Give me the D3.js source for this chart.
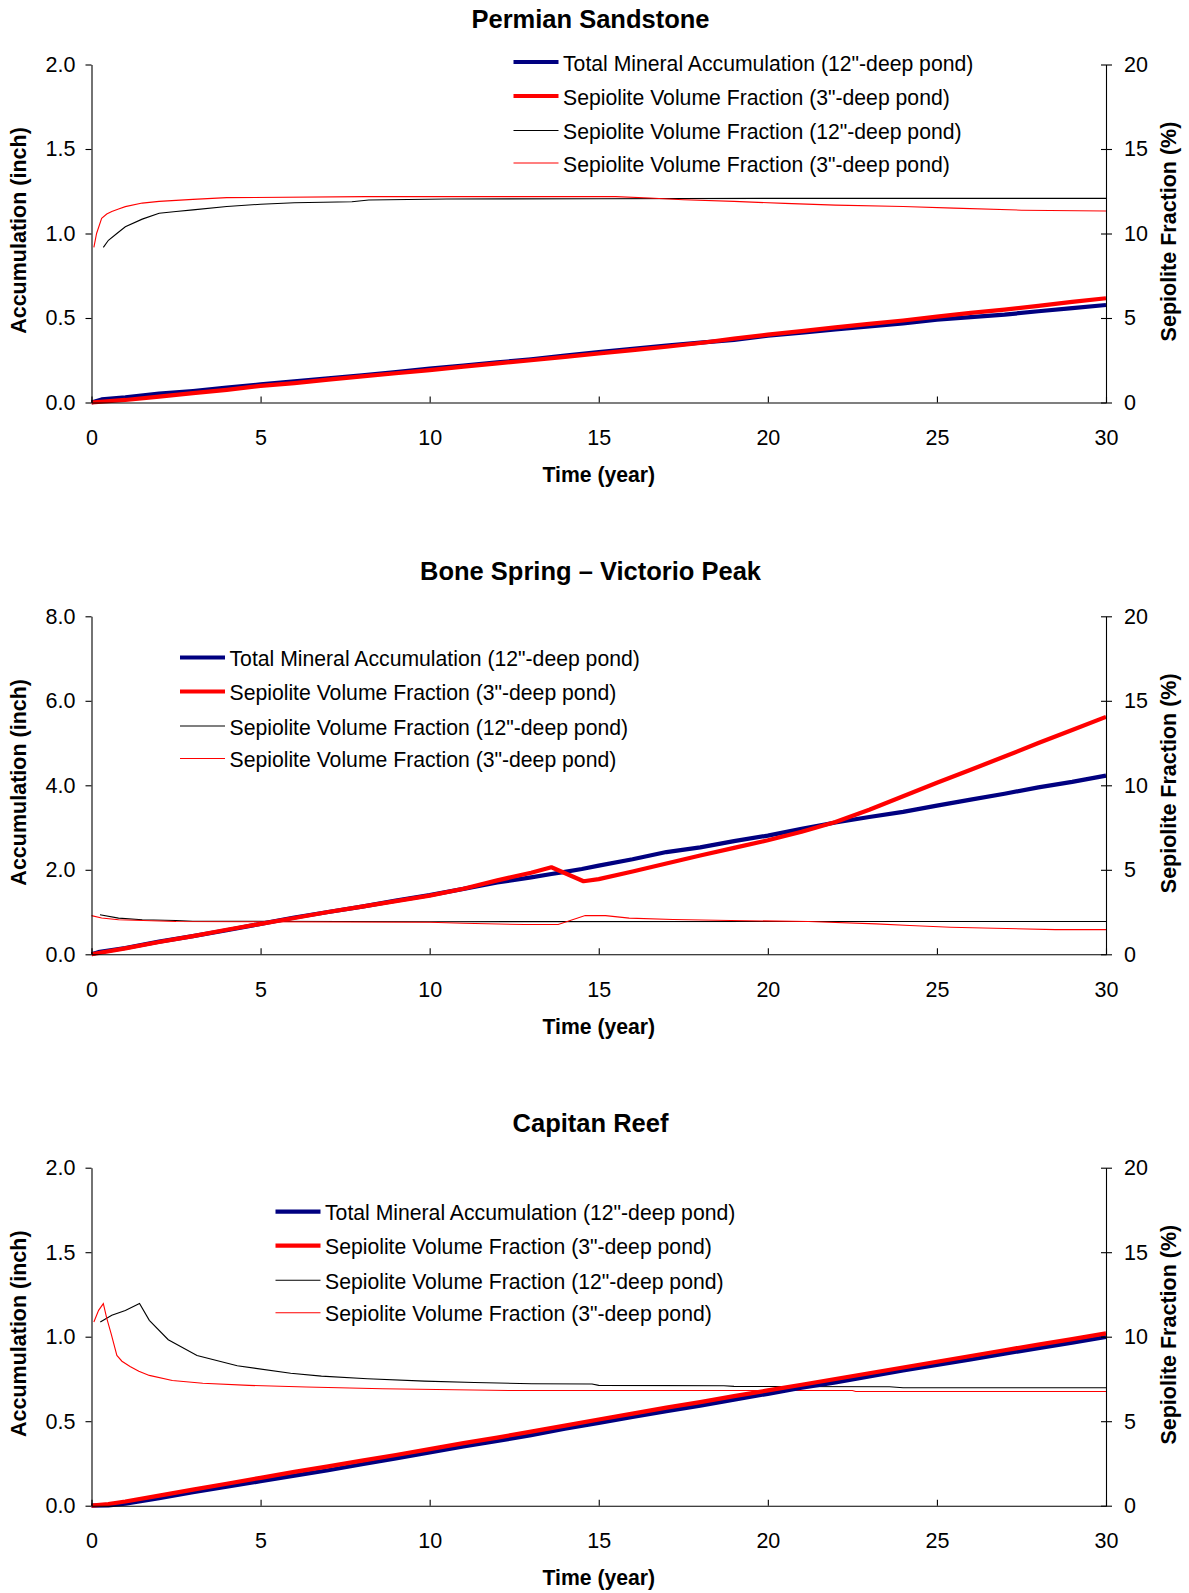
<!DOCTYPE html>
<html>
<head>
<meta charset="utf-8">
<script src="https://cdn.jsdelivr.net/npm/d3@7"></script>
<style>
  body { margin: 0; background: #fff; }
  svg { display: block; }
  text { font-family: "Liberation Sans", Arial, sans-serif; fill: #000; }
</style>
</head>
<body>
<svg id="chart" width="1189" height="1593"></svg>
<script>
// ---------------- DATA ----------------
const chartTitles = ["Permian Sandstone", "Bone Spring \u2013 Victorio Peak", "Capitan Reef"];
const legendLabels = [
  "Total Mineral Accumulation (12\"-deep pond)",
  "Sepiolite Volume Fraction (3\"-deep pond)",
  "Sepiolite Volume Fraction (12\"-deep pond)",
  "Sepiolite Volume Fraction (3\"-deep pond)"
];
const xTicks = [0, 5, 10, 15, 20, 25, 30];
const leftMax = [2.0, 8.0, 2.0];
const leftTicks = [[0, 0.5, 1.0, 1.5, 2.0], [0, 2, 4, 6, 8], [0, 0.5, 1.0, 1.5, 2.0]];
const rightTicks = [0, 5, 10, 15, 20];

// Chart 1: Permian Sandstone
const c1AccBlueT = [0, 0.3, 1, 2, 3, 4, 5, 6, 7, 8, 9, 10, 11, 12, 13, 14, 15, 16, 17, 18, 19, 20, 21, 22, 23, 24, 25, 26, 27, 28, 29, 30];
const c1AccBlueV = [0, 0.018, 0.03, 0.052, 0.068, 0.088, 0.107, 0.125, 0.143, 0.16, 0.18, 0.201, 0.218, 0.237, 0.256, 0.278, 0.298, 0.318, 0.336, 0.354, 0.37, 0.396, 0.414, 0.432, 0.45, 0.468, 0.49, 0.505, 0.52, 0.54, 0.558, 0.577];
const c1AccRedT = [0, 1, 2, 3, 4, 5, 6, 7, 8, 9, 10, 11, 12, 13, 14, 15, 16, 17, 18, 19, 20, 21, 22, 23, 24, 25, 26, 27, 28, 29, 30];
const c1AccRedV = [0, 0.015, 0.035, 0.055, 0.075, 0.098, 0.115, 0.135, 0.155, 0.173, 0.192, 0.212, 0.232, 0.25, 0.27, 0.29, 0.31, 0.33, 0.352, 0.378, 0.402, 0.422, 0.445, 0.465, 0.485, 0.508, 0.53, 0.55, 0.572, 0.595, 0.617];
const c1FracBlackT = [0.35, 0.5, 0.75, 1, 1.5, 2, 2.5, 3, 4, 5, 6, 7.7, 8.2, 10.5, 15, 20, 30];
const c1FracBlackV = [9.18, 9.6, 10.0, 10.4, 10.85, 11.2, 11.3, 11.4, 11.6, 11.73, 11.82, 11.88, 11.98, 12.04, 12.06, 12.08, 12.08];
const c1FracRedT = [0.07, 0.15, 0.3, 0.45, 0.6, 0.8, 1, 1.5, 2, 2.5, 3, 4, 8.1, 15.5, 16.5, 17.5, 19, 20.5, 22, 24, 25.5, 27.5, 30];
const c1FracRedV = [9.18, 10.0, 10.9, 11.15, 11.3, 11.45, 11.59, 11.8, 11.9, 11.96, 12.02, 12.12, 12.18, 12.18, 12.1, 12.0, 11.9, 11.78, 11.68, 11.6, 11.5, 11.38, 11.33];

// Chart 2: Bone Spring – Victorio Peak
const c2AccBlueT = [0, 0.2, 1, 2, 3, 4, 5, 6, 7, 8, 9, 10, 11, 12, 13, 13.6, 14, 14.5, 15, 16, 17, 18, 19, 20, 21, 22, 23, 24, 25, 26, 27, 28, 29, 30];
const c2AccBlueV = [0, 0.05, 0.15, 0.3, 0.43, 0.57, 0.72, 0.87, 1.0, 1.13, 1.27, 1.4, 1.55, 1.7, 1.82, 1.9, 1.95, 2.02, 2.1, 2.25, 2.42, 2.53, 2.68, 2.81, 2.97, 3.12, 3.25, 3.37, 3.52, 3.66, 3.8, 3.95, 4.08, 4.23];
const c2AccRedT = [0, 1, 2, 3, 4, 5, 6, 7, 8, 9, 10, 11, 12, 13, 13.6, 14.55, 15, 16, 17, 18, 19, 20, 21, 22, 23, 24, 25, 26, 27, 28, 29, 30];
const c2AccRedV = [0, 0.14, 0.29, 0.43, 0.58, 0.72, 0.86, 1.0, 1.13, 1.26, 1.39, 1.55, 1.75, 1.93, 2.06, 1.73, 1.78, 1.96, 2.15, 2.34, 2.52, 2.7, 2.9, 3.13, 3.42, 3.74, 4.06, 4.37, 4.68, 5.0, 5.31, 5.62];
const c2FracBlackT = [0.25, 0.8, 1.5, 2.5, 3, 10, 20, 30];
const c2FracBlackV = [2.34, 2.14, 2.04, 2.0, 1.96, 1.93, 1.94, 1.94];
const c2FracRedT = [0, 0.3, 0.8, 2.5, 10, 11, 12.8, 13.8, 14.6, 15.2, 15.9, 17.2, 18.9, 21.2, 23.2, 24.2, 25.4, 26.7, 28.5, 30];
const c2FracRedV = [2.29, 2.15, 2.04, 1.94, 1.9, 1.84, 1.76, 1.76, 2.29, 2.29, 2.14, 2.06, 2.0, 1.94, 1.8, 1.7, 1.6, 1.54, 1.46, 1.46];

// Chart 3: Capitan Reef
const c3AccT = [0, 0.5, 1, 2, 3, 4, 5, 6, 7, 8, 9, 10, 11, 12, 13, 14, 15, 16, 17, 18, 19, 20, 21, 22, 23, 24, 25, 26, 27, 28, 29, 30];
const c3AccBlueV = [0, 0.002, 0.012, 0.045, 0.08, 0.112, 0.145, 0.178, 0.21, 0.245, 0.28, 0.315, 0.35, 0.383, 0.418, 0.455, 0.49, 0.525, 0.56, 0.592, 0.628, 0.662, 0.698, 0.73, 0.765, 0.8, 0.833, 0.865, 0.9, 0.932, 0.965, 0.998];
const c3AccRedV = [0, 0.01, 0.025, 0.06, 0.095, 0.13, 0.165, 0.2, 0.233, 0.267, 0.3, 0.335, 0.37, 0.403, 0.438, 0.474, 0.51, 0.545, 0.58, 0.613, 0.648, 0.682, 0.716, 0.75, 0.784, 0.818, 0.852, 0.886, 0.92, 0.953, 0.986, 1.02];
const c3FracBlackT = [0.26, 0.6, 1.0, 1.42, 1.71, 2.27, 3.12, 4.31, 5.89, 6.8, 8.16, 9.85, 11.32, 13.02, 14.8, 15, 18.7, 19, 23.6, 24, 30];
const c3FracBlackV = [10.87, 11.27, 11.55, 11.96, 10.97, 9.82, 8.89, 8.28, 7.84, 7.67, 7.51, 7.37, 7.29, 7.22, 7.2, 7.12, 7.1, 7.06, 7.04, 6.98, 6.98];
const c3FracRedT = [0.07, 0.21, 0.35, 0.45, 0.58, 0.75, 0.9, 1.14, 1.4, 1.71, 2.39, 3.29, 4.65, 6.35, 8.61, 12.34, 22.5, 22.6, 30];
const c3FracRedV = [10.87, 11.56, 11.96, 11.1, 10.18, 8.89, 8.55, 8.24, 7.95, 7.71, 7.41, 7.25, 7.12, 7.02, 6.92, 6.82, 6.82, 6.76, 6.76];

// ---------------- BUILD ----------------
const zip = (t, v) => t.map((d, i) => [d, v[i]]);
const charts = [
  { accBlue: zip(c1AccBlueT, c1AccBlueV), accRed: zip(c1AccRedT, c1AccRedV),
    fracBlack: zip(c1FracBlackT, c1FracBlackV), fracRed: zip(c1FracRedT, c1FracRedV) },
  { accBlue: zip(c2AccBlueT, c2AccBlueV), accRed: zip(c2AccRedT, c2AccRedV),
    fracBlack: zip(c2FracBlackT, c2FracBlackV), fracRed: zip(c2FracRedT, c2FracRedV) },
  { accBlue: zip(c3AccT, c3AccBlueV), accRed: zip(c3AccT, c3AccRedV),
    fracBlack: zip(c3FracBlackT, c3FracBlackV), fracRed: zip(c3FracRedT, c3FracRedV) }
];

// layout
const plotLeft = 91.5, plotRight = 1106, plotH = 338;
const plotTops = [64.5, 616.3, 1167.7];
const legendPos = [[513.5, 62], [180, 657.5], [275.5, 1211.7]];
const legendRowOff = [0, 34, 68.5, 101];
const legendLineLen = 45;
const FONT = 21.2;

const svg = d3.select("#chart");
svg.append("rect").attr("width", 1189).attr("height", 1593).attr("fill", "#fff");

const x = d3.scaleLinear().domain([0, 30]).range([plotLeft, plotRight]);

charts.forEach((c, i) => {
  const top = plotTops[i], bottom = top + plotH;
  const yL = d3.scaleLinear().domain([0, leftMax[i]]).range([bottom, top]);
  const yR = d3.scaleLinear().domain([0, 20]).range([bottom, top]);
  const g = svg.append("g");

  // title
  g.append("text").attr("x", 590.5).attr("y", top - 36.2)
    .attr("text-anchor", "middle").attr("font-size", 25.5).attr("font-weight", "bold")
    .text(chartTitles[i]);

  // lines
  const lineL = d3.line().x(d => x(d[0])).y(d => yL(d[1]));
  const lineR = d3.line().x(d => x(d[0])).y(d => yR(d[1]));
  g.append("path").datum(c.fracBlack).attr("d", lineR)
    .attr("fill", "none").attr("stroke", "#000").attr("stroke-width", 1.1);
  g.append("path").datum(c.fracRed).attr("d", lineR)
    .attr("fill", "none").attr("stroke", "#ff0000").attr("stroke-width", 1.1);
  g.append("path").datum(c.accBlue).attr("d", lineL)
    .attr("fill", "none").attr("stroke", "#000080").attr("stroke-width", 4.2)
    .attr("stroke-linejoin", "round");
  g.append("path").datum(c.accRed).attr("d", lineL)
    .attr("fill", "none").attr("stroke", "#ff0000").attr("stroke-width", 4.2)
    .attr("stroke-linejoin", "round");

  // axes
  const axL = d3.axisLeft(yL).tickValues(leftTicks[i]).tickFormat(d3.format(".1f"))
    .tickSizeInner(6).tickSizeOuter(0).tickPadding(10);
  const gL = g.append("g").attr("transform", `translate(${plotLeft},0)`).call(axL);

  const axR = d3.axisRight(yR).tickValues(rightTicks).tickFormat(d3.format("d"))
    .tickSizeInner(6).tickSizeOuter(0).tickPadding(12);
  const gR = g.append("g").attr("transform", `translate(${plotRight},0)`).call(axR);
  gR.selectAll(".tick line").attr("x1", -5);

  const axB = d3.axisBottom(x).tickValues(xTicks).tickFormat(d3.format("d"))
    .tickSizeInner(-6).tickSizeOuter(0).tickPadding(27);
  const gB = g.append("g").attr("transform", `translate(0,${bottom})`).call(axB);

  [gL, gR, gB].forEach(a => {
    a.selectAll("path.domain").attr("stroke", "#000").attr("stroke-width", 1.1);
    a.selectAll(".tick line").attr("stroke", "#000").attr("stroke-width", 1.1);
    a.selectAll(".tick text").attr("font-size", 21.5)
      .attr("font-family", "'Liberation Sans', Arial, sans-serif").attr("fill", "#000");
  });

  // axis titles
  g.append("text").attr("transform", `translate(18,${(top + bottom) / 2 - 3}) rotate(-90)`)
    .attr("text-anchor", "middle").attr("dy", "0.35em")
    .attr("font-size", 21.5).attr("font-weight", "bold").text("Accumulation (inch)");
  g.append("text").attr("transform", `translate(1168.7,${(top + bottom) / 2 - 2}) rotate(-90)`)
    .attr("text-anchor", "middle").attr("dy", "0.35em")
    .attr("font-size", 21.5).attr("font-weight", "bold").text("Sepiolite Fraction (%)");
  g.append("text").attr("x", 598.8).attr("y", bottom + 79.5)
    .attr("text-anchor", "middle").attr("font-size", 21.2).attr("font-weight", "bold")
    .text("Time (year)");

  // legend
  const styles = [
    { color: "#000080", w: 4.2 },
    { color: "#ff0000", w: 4.2 },
    { color: "#000", w: 1.1 },
    { color: "#ff0000", w: 1.1 }
  ];
  const [lx, ly] = legendPos[i];
  legendLabels.forEach((lab, k) => {
    const yy = ly + legendRowOff[k];
    g.append("line").attr("x1", lx).attr("x2", lx + legendLineLen)
      .attr("y1", yy).attr("y2", yy)
      .attr("stroke", styles[k].color).attr("stroke-width", styles[k].w);
    g.append("text").attr("x", lx + legendLineLen + 4.5).attr("y", yy + 8.5)
      .attr("font-size", FONT).text(lab);
  });
});
</script>
</body>
</html>
